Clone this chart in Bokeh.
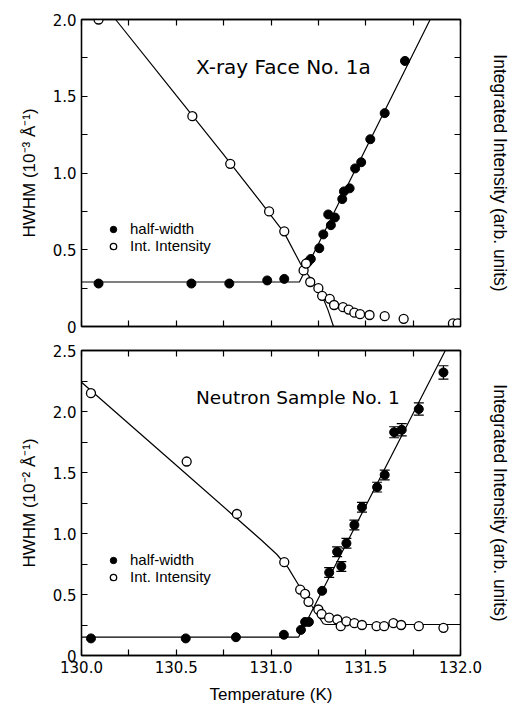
from bokeh.plotting import figure
from bokeh.models import (LinearAxis, FixedTicker, Range1d, Legend, LegendItem, Label,
                          Whisker, TeeHead, ColumnDataSource, NumeralTickFormatter)
from bokeh.layouts import column
from bokeh.embed import file_html
from bokeh.resources import INLINE

# ---------------- data: X-ray Face No. 1a (top panel) ----------------
xr_hw_T = [130.09, 130.58, 130.78, 130.98, 131.07, 131.195, 131.21, 131.255, 131.276,
           131.302, 131.316, 131.337, 131.376, 131.385, 131.415, 131.444, 131.476,
           131.524, 131.60, 131.707]
xr_hw = [0.28, 0.28, 0.28, 0.30, 0.31, 0.42, 0.44, 0.51, 0.60,
         0.73, 0.66, 0.71, 0.83, 0.88, 0.90, 1.03, 1.07,
         1.22, 1.39, 1.73]
xr_int_T = [130.09, 130.585, 130.785, 130.99, 131.07, 131.172, 131.185, 131.207, 131.25,
            131.27, 131.31, 131.333, 131.38, 131.41, 131.44, 131.47, 131.52, 131.60,
            131.70, 131.96, 131.985]
xr_int = [2.00, 1.37, 1.06, 0.75, 0.62, 0.365, 0.41, 0.29, 0.25,
          0.20, 0.18, 0.14, 0.126, 0.11, 0.09, 0.08, 0.075, 0.067,
          0.05, 0.02, 0.02]
xr_hw_fit_T = [130.0, 131.15, 131.84]
xr_hw_fit = [0.29, 0.29, 2.0]
xr_int_fit_T = [130.18, 130.5, 130.75, 130.94, 131.07, 131.155, 131.265, 131.30, 131.33]
xr_int_fit = [2.0, 1.505, 1.12, 0.82, 0.61, 0.41, 0.213, 0.11, 0.0]

# ---------------- data: Neutron Sample No. 1 (bottom panel) ----------------
nt_hw_T = [130.05, 130.55, 130.815, 131.068, 131.158, 131.18, 131.20, 131.27,
           131.307, 131.349, 131.371, 131.398, 131.44, 131.48, 131.56, 131.60,
           131.65, 131.69, 131.78, 131.91]
nt_hw = [0.14, 0.14, 0.15, 0.17, 0.21, 0.275, 0.275, 0.53,
         0.68, 0.85, 0.73, 0.92, 1.07, 1.215, 1.38, 1.48,
         1.83, 1.85, 2.02, 2.32]
nt_hw_err = [0, 0, 0, 0, 0, 0, 0, 0,
             0.04, 0.04, 0.04, 0.04, 0.04, 0.04, 0.04, 0.04,
             0.045, 0.05, 0.05, 0.055]
nt_int_T = [130.05, 130.555, 130.82, 131.07, 131.154, 131.18, 131.198, 131.25, 131.267,
            131.307, 131.35, 131.368, 131.398, 131.44, 131.48, 131.557, 131.597,
            131.646, 131.687, 131.78, 131.91]
nt_int = [2.15, 1.59, 1.16, 0.765, 0.54, 0.505, 0.44, 0.377, 0.34,
          0.31, 0.295, 0.24, 0.28, 0.265, 0.25, 0.24, 0.24,
          0.265, 0.25, 0.24, 0.227]
nt_hw_fit_T = [130.0, 131.145, 131.92]
nt_hw_fit = [0.15, 0.15, 2.5]
nt_int_fit_T = [130.0, 130.5, 130.8, 130.95, 131.03, 131.09, 131.163, 131.276, 131.29, 132.0]
nt_int_fit = [2.24, 1.56, 1.15, 0.945, 0.83, 0.72, 0.533, 0.26, 0.254, 0.254]

# ---------------- ticks / labels ----------------
x_major = [130.0, 130.5, 131.0, 131.5, 132.0]
x_minor = [130.25, 130.75, 131.25, 131.75]
xr_y_major = [0, 0.5, 1.0, 1.5, 2.0]
xr_y_minor = [0.25, 0.75, 1.25, 1.75]
nt_y_major = [0, 0.5, 1.0, 1.5, 2.0, 2.5]
nt_y_minor = [0.25, 0.75, 1.25, 1.75, 2.25]

xr_title = "X-ray Face No. 1a"
nt_title = "Neutron Sample No. 1"
xr_ylabel = "HWHM (10\u207b\u00b3 \u00c5\u207b\u00b9)"
nt_ylabel = "HWHM (10\u207b\u00b2 \u00c5\u207b\u00b9)"
right_label = "Integrated Intensity (arb. units)"
x_label = "Temperature (K)"
leg_labels = ["half-width", "Int. Intensity"]

FONT_TICK = "DejaVu Sans"
FONT_LAB = "Liberation Sans"
FONT_TITLE = "DejaVu Sans"


def style_axis(ax, labels=True, minor=True):
    ax.axis_line_color = "black"
    ax.axis_line_width = 1.3
    ax.major_tick_line_color = "black"
    ax.major_tick_line_width = 1.2
    ax.major_tick_in = 6
    ax.major_tick_out = 0
    ax.minor_tick_line_color = "black" if minor else None
    ax.minor_tick_line_width = 1.2
    ax.minor_tick_in = 6
    ax.minor_tick_out = 0
    ax.major_label_text_font = FONT_TICK
    if labels:
        ax.major_label_text_color = "black"
        ax.major_label_text_font_size = "15px"
        ax.major_label_standoff = 5
    else:
        ax.major_label_text_color = None
        ax.major_label_text_font_size = "0px"
        ax.major_label_standoff = 0
    ax.axis_label_text_font = FONT_LAB
    ax.axis_label_text_font_style = "normal"
    ax.axis_label_text_color = "black"


def make_panel(ymax, ymaj, ymin, height, mb_top, mb_bottom, ylabel, xlabels, right_minor,
               hwT, hw, intT, inten, hwfT, hwf, intfT, intf, title, title_size, title_y,
               leg_y, err=None):
    p = figure(width=512, height=height, x_range=Range1d(130, 132), y_range=Range1d(0, ymax),
               x_axis_location=None, y_axis_location=None,
               output_backend="svg", toolbar_location=None,
               min_border_left=81, min_border_right=48,
               min_border_top=mb_top, min_border_bottom=mb_bottom,
               background_fill_color="white", border_fill_color="white")
    p.outline_line_color = "black"
    p.outline_line_width = 1.3
    p.grid.visible = False

    xt = FixedTicker(ticks=x_major, minor_ticks=x_minor)
    yt = FixedTicker(ticks=ymaj, minor_ticks=ymin)

    below = LinearAxis(ticker=xt, formatter=NumeralTickFormatter(format="0.0"))
    style_axis(below, labels=xlabels)
    if xlabels:
        below.axis_label = x_label
        below.axis_label_text_font_size = "17px"
        below.axis_label_standoff = 9
    p.add_layout(below, "below")

    above = LinearAxis(ticker=xt, formatter=NumeralTickFormatter(format="0.0"))
    style_axis(above, labels=False)
    p.add_layout(above, "above")

    left = LinearAxis(ticker=yt, formatter=NumeralTickFormatter(format="0.0"),
                      major_label_overrides={0: "0"})
    style_axis(left, labels=True)
    left.axis_label = ylabel
    left.axis_label_text_font_size = "17px"
    left.axis_label_standoff = 11
    p.add_layout(left, "left")

    right = LinearAxis(ticker=yt, formatter=NumeralTickFormatter(format="0.0"))
    style_axis(right, labels=False, minor=right_minor)
    right.axis_label = right_label
    right.axis_label_text_font_size = "17.5px"
    right.axis_label_text_line_height = 1.0
    right.axis_label_standoff = 29
    p.add_layout(right, "right")

    # fit curves
    p.line(hwfT, hwf, line_color="black", line_width=1.2)
    p.line(intfT, intf, line_color="black", line_width=1.2)

    if err is not None:
        bx = [t for t, e in zip(hwT, err) if e > 0]
        up = [v + e for v, e in zip(hw, err) if e > 0]
        lo = [v - e for v, e in zip(hw, err) if e > 0]
        src = ColumnDataSource(dict(base=bx, upper=up, lower=lo))
        wh = Whisker(base="base", upper="upper", lower="lower", source=src,
                     line_color="black", line_width=1.2,
                     upper_head=TeeHead(size=10, line_color="black", line_width=1.2),
                     lower_head=TeeHead(size=10, line_color="black", line_width=1.2))
        p.add_layout(wh)

    r_hw = p.scatter(hwT, hw, marker="circle", size=9, fill_color="black", line_color="black",
                     line_width=1.0)
    r_int = p.scatter(intT, inten, marker="circle", size=9, fill_color="white",
                      line_color="black", line_width=1.3)

    legend = Legend(items=[LegendItem(label=leg_labels[0], renderers=[r_hw]),
                           LegendItem(label=leg_labels[1], renderers=[r_int])],
                    location=(23, leg_y), padding=0, margin=0, spacing=0,
                    glyph_width=18, glyph_height=16, label_height=16, label_standoff=8,
                    label_text_font=FONT_LAB, label_text_font_size="15px",
                    label_text_color="black",
                    border_line_color=None, background_fill_alpha=0)
    p.add_layout(legend)

    p.add_layout(Label(x=130.604, y=title_y, text=title, text_font=FONT_TITLE,
                       text_font_size=title_size, text_color="black",
                       text_baseline="alphabetic", text_align="left"))
    return p


top = make_panel(2.0, xr_y_major, xr_y_minor, 338, 19, 12, xr_ylabel, False, True,
                 xr_hw_T, xr_hw, xr_int_T, xr_int, xr_hw_fit_T, xr_hw_fit,
                 xr_int_fit_T, xr_int_fit, xr_title, "20px", 1.689, 72)
bottom = make_panel(2.5, nt_y_major, nt_y_minor, 368, 12, 51, nt_ylabel, True, False,
                    nt_hw_T, nt_hw, nt_int_T, nt_int, nt_hw_fit_T, nt_hw_fit,
                    nt_int_fit_T, nt_int_fit, nt_title, "18.5px", 2.117, 70, err=nt_hw_err)

layout = column(top, bottom, spacing=0)
open("out.html", "w").write(file_html(layout, INLINE))
